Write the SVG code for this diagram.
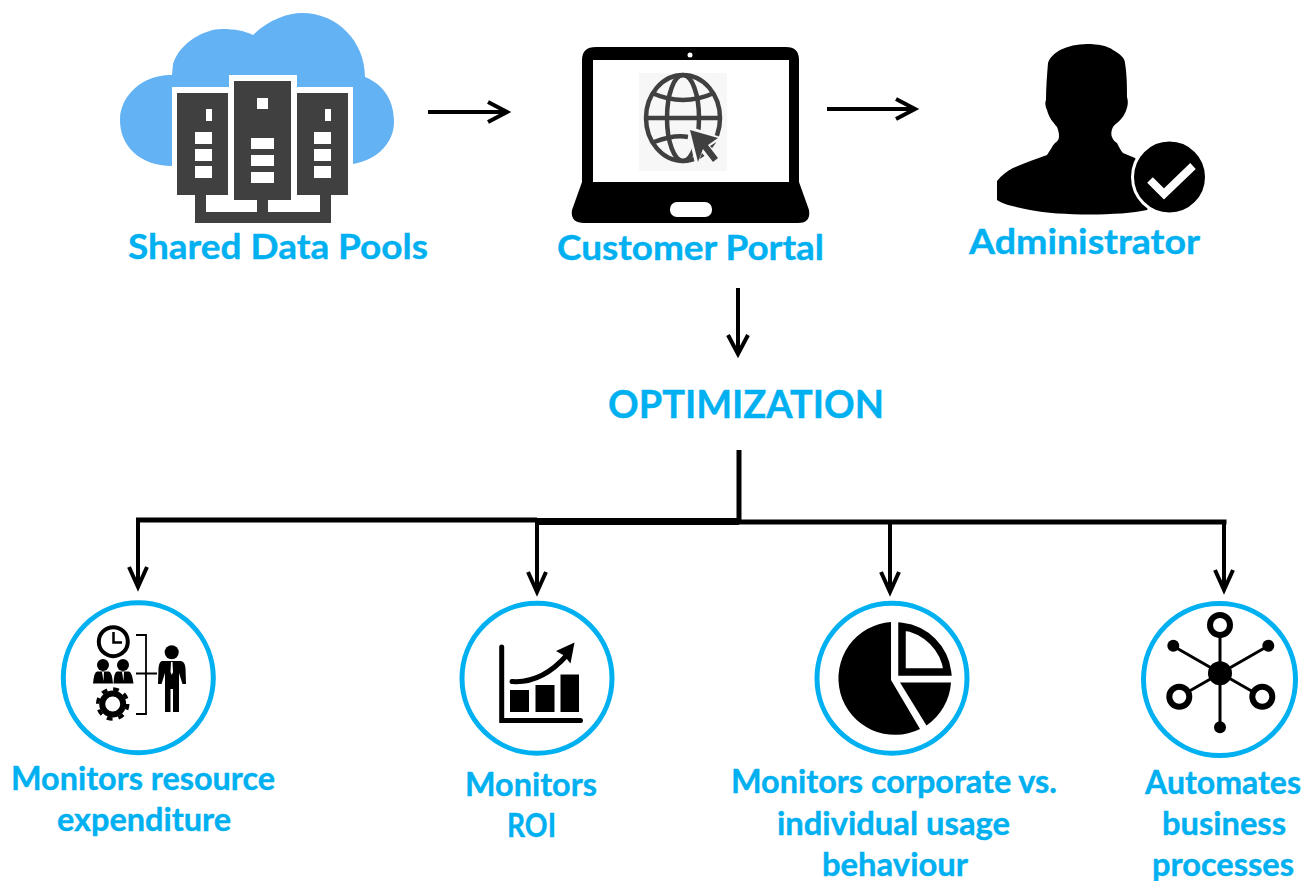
<svg xmlns="http://www.w3.org/2000/svg" width="1302" height="881" viewBox="0 0 1302 881">
<style>
text{font-family:"Lato","Open Sans","Liberation Sans",sans-serif;font-weight:700;fill:#00b0f0;stroke:#00b0f0;stroke-width:.4px;font-size:32px}
.t{font-size:35px}
.ring{fill:#fff;stroke:#00b0f0;stroke-width:5}
.srv{fill:#404040}
.w{fill:#fff}
.k{fill:#000}
.lk{fill:none;stroke:#000;stroke-width:4}
.ln{fill:none;stroke:#000}
</style>
<defs>
<marker id="a" markerUnits="userSpaceOnUse" markerWidth="34" markerHeight="34" refX="22" refY="12" orient="auto" overflow="visible"><path d="M3 2L22 12L3 22" fill="none" stroke="#000" stroke-width="4"/></marker>
<marker id="b" markerUnits="userSpaceOnUse" markerWidth="34" markerHeight="34" refX="21" refY="12" orient="auto" overflow="visible"><path d="M1 3L21 12L1 21" fill="none" stroke="#000" stroke-width="4"/></marker>
</defs>
<rect width="1302" height="881" fill="#fff"/>
<g id="connectors">
<path class="lk" d="M428 112H507" marker-end="url(#a)"/>
<path class="lk" d="M827 109H915" marker-end="url(#a)"/>
<path class="lk" d="M738 288V354" marker-end="url(#a)"/>
<path class="ln" stroke-width="5" d="M739 450V523"/>
<path class="ln" stroke-width="5" d="M136 520H537"/>
<path class="ln" stroke-width="7" d="M537 521.500H739"/>
<path class="ln" stroke-width="5" d="M739 522H1226.500"/>
<path class="lk" d="M138 521V587" marker-end="url(#b)"/>
<path class="lk" d="M537 521V592" marker-end="url(#b)"/>
<path class="lk" d="M890 523V592" marker-end="url(#b)"/>
<path class="lk" d="M1224 523V590" marker-end="url(#b)"/>
</g>
<g id="shared-data-pools">
<path d="M172 166C140 166 120 146 120 120C120 94 145 74 172 75L173 64C180 42 205 29 222 29C235 29 245 31 253 35C268 20 288 13 302 13C338 13 365 42 365 77C385 85 394 102 394 122C394 142 378 160 353 164Z" fill="#62b2f4"/>
<path class="w" d="M172 87H229V75H297V87H353V200H320V224H172Z"/>
<path class="srv" d="M177 93H228V195H177ZM234 81H291V200H234ZM297 93H348V195H297Z"/>
<path class="srv" d="M195 195H206V212H257V200H268V212H320V195H331V223H195Z"/>
<path class="w" d="M206 109H212V121H206ZM195 132H212V144H195ZM195 149H212V161H195ZM195 166H212V178H195ZM257 98H268V109H257ZM251 138H274V149H251ZM251 155H274V166H251ZM251 172H274V183H251ZM325 109H331V121H325ZM314 132H331V144H314ZM314 149H331V161H314ZM314 166H331V178H314Z"/>
<text class="t" x="278" y="259" text-anchor="middle" textLength="300" lengthAdjust="spacingAndGlyphs">Shared Data Pools</text>
</g>
<g id="customer-portal">
<path class="k" d="M596 47H786Q799 47 799 60V182L809 210Q811 223 798 223H584Q570 223 572 210L582 182V60Q582 47 596 47Z"/>
<rect class="w" x="593" y="60" width="196" height="122"/>
<circle class="w" cx="690" cy="55" r="2.500"/>
<rect class="w" x="670" y="202" width="42" height="15" rx="7"/>
<rect x="639" y="73" width="88" height="98" fill="#f7f7f7"/>
<g fill="none" stroke="#404040" stroke-width="4.500">
<ellipse cx="683" cy="118" rx="37" ry="43"/>
<ellipse cx="683" cy="118" rx="16" ry="43"/>
<path d="M645 118H721M652 93Q683 107 714 93M654 142Q675 134 688 137"/>
</g>
<path d="M686 125L723 138L710 146L722 158L713 166L702 153L696 168Z" fill="#f7f7f7"/>
<path d="M690 130L718 138L708 145L718 158L713 162L703 149L698 162Z" fill="#404040"/>
<text class="t" x="690.500" y="260" text-anchor="middle" textLength="267" lengthAdjust="spacingAndGlyphs">Customer Portal</text>
</g>
<g id="administrator">
<path class="k" d="M1087 44C1098 44 1108 46 1113 50C1120 54 1125 58 1125 63C1127 75 1127 88 1127 97C1129 103 1127 109 1125 113C1122 120 1116 123 1113 127C1111 131 1111 135 1112 137C1113 140 1115 142 1117 143C1119 147 1121 151 1123 153L1135 158L1160 190L1147 210C1120 216 1060 216 1030 210C1015 207 1002 204 997 200V181C1002 175 1007 171 1013 168C1025 163 1036 159 1047 155C1050 151 1052 146 1055 143C1058 141 1059 139 1059 136C1059 132 1058 130 1057 127C1053 122 1049 118 1047 110C1045 106 1045 102 1046 100C1046 88 1047 75 1048 63C1050 57 1055 53 1060 50C1068 46 1077 44 1087 44Z"/>
<circle cx="1169.500" cy="177" r="37" fill="#000" stroke="#fff" stroke-width="3"/>
<path d="M1150 180L1164 194L1193 166" fill="none" stroke="#fff" stroke-width="8"/>
<text class="t" x="1084.500" y="254" text-anchor="middle" textLength="231" lengthAdjust="spacingAndGlyphs">Administrator</text>
</g>
<g id="optimization">
<text x="746" y="418" text-anchor="middle" textLength="276" lengthAdjust="spacingAndGlyphs" style="font-size:39px">OPTIMIZATION</text>
</g>
<g id="monitors-resource-expenditure">
<circle class="ring" cx="138.300" cy="677.700" r="75"/>
<circle cx="113.300" cy="641.700" r="14.500" fill="none" stroke="#000" stroke-width="4"/>
<path class="ln" stroke-width="2.500" d="M113.500 632V642.500H122"/>
<circle class="k" cx="103" cy="665" r="6"/>
<circle class="k" cx="123" cy="665" r="6"/>
<path class="k" d="M97 671.500H109Q112 672 113 683.500H93Q94 672 97 671.500ZM117 671.500H129Q132 672 133.500 683.500H113.500Q114 672 117 671.500Z"/>
<path class="w" d="M102 672H104L103.500 681ZM122 672H124L123.500 681Z"/>
<circle cx="112.700" cy="704" r="10.500" fill="none" stroke="#000" stroke-width="6"/>
<circle cx="112.700" cy="704" r="15" fill="none" stroke="#000" stroke-width="3.500" stroke-dasharray="5.800 5.980"/>
<path class="ln" stroke-width="1.800" d="M136 635H146V714H136M136 673.500H157"/>
<circle class="k" cx="171.700" cy="652.300" r="7"/>
<path class="k" d="M162 661H181Q185 662 185.500 668L186 684H182.500L179 673V712H173V689H170.500V712H165V673L161.500 684H158L158.500 668Q159 662 162 661Z"/>
<path class="w" d="M171 662H172.500L173 672L171.800 675L170.500 672Z"/>
<text x="143" y="790" text-anchor="middle" textLength="264" lengthAdjust="spacingAndGlyphs">Monitors resource</text>
<text x="144" y="831" text-anchor="middle" textLength="174" lengthAdjust="spacingAndGlyphs">expenditure</text>
</g>
<g id="monitors-roi">
<circle class="ring" cx="537" cy="678.300" r="75"/>
<path class="ln" stroke-width="5" stroke-linecap="round" d="M501.700 647V720.500H580.500"/>
<path class="k" d="M510 690H529V712H510ZM535.500 685H554.500V712H535.500ZM560.500 674.500H579V712H560.500Z"/>
<path class="ln" stroke-width="5" stroke-linecap="round" d="M512 681.500C533 683 552 672 567 655"/>
<path class="k" d="M574.500 642.500L570.500 663.500L564 655.500L556 651Z"/>
<text x="531" y="796" text-anchor="middle" textLength="132" lengthAdjust="spacingAndGlyphs">Monitors</text>
<text x="531.500" y="837" text-anchor="middle" textLength="49" lengthAdjust="spacingAndGlyphs">ROI</text>
</g>
<g id="monitors-corporate">
<circle class="ring" cx="892" cy="678.300" r="75"/>
<path class="k" d="M891 622V680L920 729A56.500 56.500 0 1 1 891 622Z"/>
<path class="k" d="M900 682.500H951A56.500 56.500 0 0 1 926.500 725.500Z"/>
<path d="M902 672V626.500A52 52 0 0 1 947.500 672Z" fill="#fff" stroke="#000" stroke-width="7.500"/>
<text x="894" y="793" text-anchor="middle" textLength="326" lengthAdjust="spacingAndGlyphs">Monitors corporate vs.</text>
<text x="893.500" y="835" text-anchor="middle" textLength="233" lengthAdjust="spacingAndGlyphs">individual usage</text>
<text x="895" y="876" text-anchor="middle" textLength="146" lengthAdjust="spacingAndGlyphs">behaviour</text>
</g>
<g id="automates-business">
<circle class="ring" cx="1219.500" cy="679.500" r="76"/>
<path class="ln" stroke-width="3" d="M1220 625V727M1173 646L1262 697M1268 646L1179 697"/>
<circle class="k" cx="1220" cy="673.300" r="12"/>
<circle cx="1220" cy="625" r="10" fill="#fff" stroke="#000" stroke-width="6"/>
<circle cx="1179.300" cy="696.700" r="10" fill="#fff" stroke="#000" stroke-width="6"/>
<circle cx="1262.300" cy="696.700" r="10" fill="#fff" stroke="#000" stroke-width="6"/>
<circle class="k" cx="1173.300" cy="645.700" r="6"/>
<circle class="k" cx="1268.300" cy="645.700" r="6"/>
<circle class="k" cx="1220" cy="727.300" r="6"/>
<text x="1223" y="794" text-anchor="middle" textLength="156" lengthAdjust="spacingAndGlyphs">Automates</text>
<text x="1224" y="835" text-anchor="middle" textLength="124" lengthAdjust="spacingAndGlyphs">business</text>
<text x="1223" y="876" text-anchor="middle" textLength="142" lengthAdjust="spacingAndGlyphs">processes</text>
</g>
</svg>
